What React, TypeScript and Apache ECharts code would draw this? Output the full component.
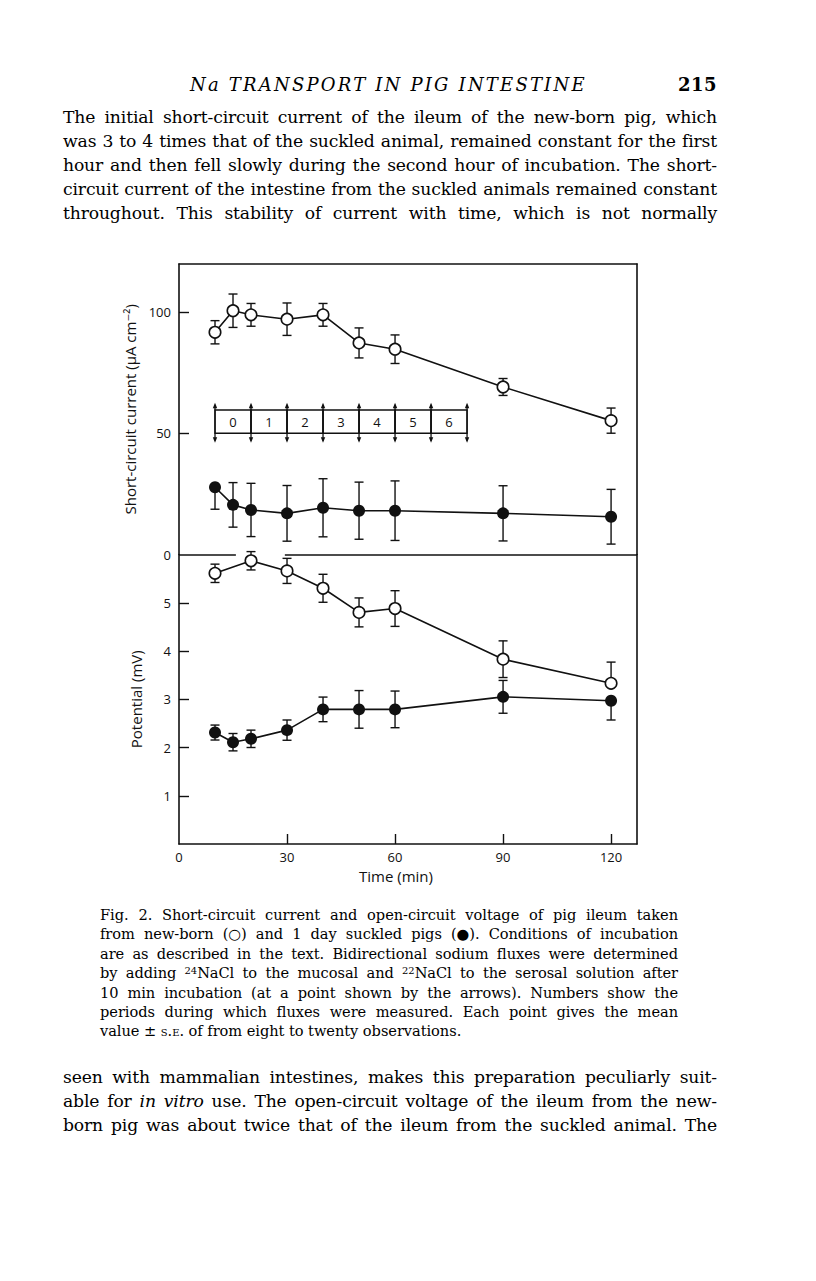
import React, { useEffect, useLayoutEffect, useRef } from "react";
import * as echarts from "echarts";

// ---------- data ----------
const xTickValues = [30, 60, 90, 120];
const xLabelValues = [0, 30, 60, 90, 120];
const scTickValues = [50, 100];
const scLabelValues = [0, 50, 100];
const pdTickValues = [1, 2, 3, 4, 5];

// short-circuit current, new-born (open circles)
const scTimesNewborn = [10, 15, 20, 30, 40, 50, 60, 90, 120];
const scNewborn = [91.8, 100.7, 99, 97.2, 99, 87.4, 84.8, 69.2, 55.3];
const scNewbornSE = [4.8, 6.9, 4.7, 6.7, 4.7, 6.2, 5.9, 3.5, 5.2];
const scNewbornSides = ["both", "both", "both", "both", "both", "both", "both", "both", "both"];

// short-circuit current, suckled (filled circles)
const scTimesSuckled = [10, 15, 20, 30, 40, 50, 60, 90, 120];
const scSuckled = [27.8, 20.5, 18.4, 17, 19.3, 18.1, 18.1, 17, 15.6];
const scSuckledSE = [9.1, 9.2, 11, 11.5, 12, 11.8, 12.3, 11.4, 11.3];
const scSuckledSides = ["down", "both", "both", "both", "both", "both", "both", "both", "both"];

// potential, new-born (open circles)
const pdTimesNewborn = [10, 20, 30, 40, 50, 60, 90, 120];
const pdNewborn = [5.61, 5.87, 5.66, 5.3, 4.8, 4.88, 3.83, 3.33];
const pdNewbornSE = [0.19, 0.19, 0.26, 0.29, 0.3, 0.37, 0.38, 0.44];
const pdNewbornSides = ["both", "both", "both", "both", "both", "both", "both", "up"];

// potential, suckled (filled circles)
const pdTimesSuckled = [10, 15, 20, 30, 40, 50, 60, 90, 120];
const pdSuckled = [2.31, 2.11, 2.18, 2.36, 2.79, 2.79, 2.79, 3.05, 2.97];
const pdSuckledSE = [0.155, 0.18, 0.18, 0.21, 0.255, 0.39, 0.38, 0.34, 0.4];
const pdSuckledSides = ["both", "both", "both", "both", "both", "both", "both", "both", "down"];

// flux periods (boxes with arrows)
const periodBounds = [10, 20, 30, 40, 50, 60, 70, 80];
const periodLabels = ["0", "1", "2", "3", "4", "5", "6"];
const periodBox = [50.1, 59.7];
const periodArrow = [46.2, 62.7];

// divider between the panels (interrupted)
const dividerSegments = [
  [0, 15.8],
  [29.4, 127.2],
];

const X_MAX = 127.2;
const SC_MAX = 120;
const PD_MAX = 6;

// ---------- helpers ----------
const INK = "#111";
const SANS = '"Open Sans", "DejaVu Sans", sans-serif';
const LW = 1.6;

function zip(xs: number[], ys: number[]) {
  return xs.map((x, i) => [x, ys[i]]);
}
function errData(xs: number[], ys: number[], se: number[], sides: string[]) {
  return xs.map((x, i) => {
    const up = sides[i] === "both" || sides[i] === "up" ? se[i] : 0;
    const dn = sides[i] === "both" || sides[i] === "down" ? se[i] : 0;
    return [x, ys[i], ys[i] - dn, ys[i] + up];
  });
}

const errRender = (params: any, api: any) => {
  const x = api.value(0);
  const y = api.value(1);
  const lo = api.value(2);
  const hi = api.value(3);
  const pLo = api.coord([x, lo]);
  const pHi = api.coord([x, hi]);
  const cw = 4.5;
  const st = { stroke: INK, lineWidth: 1.4 };
  const children: any[] = [
    { type: "line", shape: { x1: pLo[0], y1: pLo[1], x2: pHi[0], y2: pHi[1] }, style: st },
  ];
  if (hi > y)
    children.push({ type: "line", shape: { x1: pHi[0] - cw, y1: pHi[1], x2: pHi[0] + cw, y2: pHi[1] }, style: st });
  if (lo < y)
    children.push({ type: "line", shape: { x1: pLo[0] - cw, y1: pLo[1], x2: pLo[0] + cw, y2: pLo[1] }, style: st });
  return { type: "group", children };
};

function errSeries(data: number[][], axis: number) {
  return {
    type: "custom",
    xAxisIndex: axis,
    yAxisIndex: axis,
    data,
    encode: { x: 0, y: 1 },
    renderItem: errRender,
    silent: true,
    z: 2,
  };
}

function lineSeries(data: number[][], axis: number, open: boolean, extra: any = {}) {
  return {
    type: "line",
    xAxisIndex: axis,
    yAxisIndex: axis,
    data,
    symbol: "circle",
    symbolSize: open ? 11.5 : 12,
    showSymbol: true,
    lineStyle: { color: INK, width: LW },
    itemStyle: open
      ? { color: "#fff", borderColor: INK, borderWidth: 1.6 }
      : { color: INK, borderColor: INK, borderWidth: 0 },
    silent: true,
    z: 3,
    ...extra,
  };
}

const frameLine = { show: true, onZero: false, lineStyle: { color: INK, width: LW } };

const periodData = periodLabels.map((_, i) => [periodBounds[i], periodBounds[i + 1], periodBox[0], periodBox[1]]);
const arrowData = periodBounds.map((t) => [t, periodArrow[0], periodArrow[1]]);

const option: any = {
  animation: false,
  backgroundColor: "transparent",
  grid: [
    { left: 179, right: 179, top: 264, bottom: 1281 - 554.5 },
    { left: 179, right: 179, top: 554.5, bottom: 1281 - 844 },
  ],
  xAxis: [
    { gridIndex: 0, type: "value", min: 0, max: X_MAX, show: false, axisLine: { onZero: false } },
    {
      gridIndex: 1,
      type: "value",
      min: 0,
      max: X_MAX,
      interval: 30,
      axisLine: frameLine,
      axisTick: { show: true, inside: true, length: 10, customValues: xTickValues, lineStyle: { color: INK, width: 1.4 } },
      axisLabel: {
        customValues: xLabelValues,
        margin: 6,
        color: INK,
        fontSize: 13,
        fontFamily: SANS,
        formatter: (v: number) => (xLabelValues.indexOf(v) >= 0 ? String(v) : ""),
      },
      splitLine: { show: false },
      name: "Time (min)",
      nameLocation: "middle",
      nameGap: 24,
      nameTextStyle: { color: INK, fontSize: 15, fontFamily: SANS, padding: [0, 24, 0, 0] },
    },
    {
      gridIndex: 0,
      type: "value",
      min: 0,
      max: X_MAX,
      position: "top",
      axisLine: frameLine,
      axisTick: { show: false },
      axisLabel: { show: false },
      splitLine: { show: false },
    },
  ],
  yAxis: [
    {
      gridIndex: 0,
      type: "value",
      min: 0,
      max: SC_MAX,
      interval: 50,
      axisLine: frameLine,
      axisTick: { show: true, inside: true, length: 10, customValues: scTickValues, lineStyle: { color: INK, width: 1.4 } },
      axisLabel: {
        customValues: scLabelValues,
        margin: 8,
        color: INK,
        fontSize: 13,
        fontFamily: SANS,
        formatter: (v: number) => (scLabelValues.indexOf(v) >= 0 ? String(v) : ""),
      },
      splitLine: { show: false },
      name: "Short-circuit current (\u03bcA cm\u207b\u00b2)",
      nameLocation: "middle",
      nameGap: 36,
      nameTextStyle: { color: INK, fontSize: 15, fontFamily: SANS },
    },
    {
      gridIndex: 1,
      type: "value",
      min: 0,
      max: PD_MAX,
      interval: 1,
      axisLine: frameLine,
      axisTick: { show: true, inside: true, length: 10, customValues: pdTickValues, lineStyle: { color: INK, width: 1.4 } },
      axisLabel: {
        customValues: pdTickValues,
        margin: 8,
        color: INK,
        fontSize: 13,
        fontFamily: SANS,
        formatter: (v: number) => (pdTickValues.indexOf(v) >= 0 ? String(v) : ""),
      },
      splitLine: { show: false },
      name: "Potential (mV)",
      nameLocation: "middle",
      nameGap: 36,
      nameTextStyle: { color: INK, fontSize: 15, fontFamily: SANS },
    },
    {
      gridIndex: 0,
      type: "value",
      min: 0,
      max: SC_MAX,
      position: "right",
      axisLine: frameLine,
      axisTick: { show: false },
      axisLabel: { show: false },
      splitLine: { show: false },
    },
    {
      gridIndex: 1,
      type: "value",
      min: 0,
      max: PD_MAX,
      position: "right",
      axisLine: frameLine,
      axisTick: { show: false },
      axisLabel: { show: false },
      splitLine: { show: false },
    },
  ],
  series: [
    errSeries(errData(scTimesNewborn, scNewborn, scNewbornSE, scNewbornSides), 0),
    errSeries(errData(scTimesSuckled, scSuckled, scSuckledSE, scSuckledSides), 0),
    errSeries(errData(pdTimesNewborn, pdNewborn, pdNewbornSE, pdNewbornSides), 1),
    errSeries(errData(pdTimesSuckled, pdSuckled, pdSuckledSE, pdSuckledSides), 1),
    lineSeries(zip(scTimesNewborn, scNewborn), 0, true, {
      markLine: {
        silent: true,
        symbol: "none",
        label: { show: false },
        lineStyle: { color: INK, width: LW, type: "solid" },
        data: dividerSegments.map((s) => [{ coord: [s[0], 0] }, { coord: [s[1], 0] }]),
      },
    }),
    lineSeries(zip(scTimesSuckled, scSuckled), 0, false),
    lineSeries(zip(pdTimesNewborn, pdNewborn), 1, true),
    lineSeries(zip(pdTimesSuckled, pdSuckled), 1, false),
    {
      type: "custom",
      xAxisIndex: 0,
      yAxisIndex: 0,
      data: periodData,
      encode: { x: [0, 1], y: [2, 3] },
      silent: true,
      z: 2,
      renderItem: (params: any, api: any) => {
        const p0 = api.coord([api.value(0), api.value(3)]);
        const p1 = api.coord([api.value(1), api.value(2)]);
        return {
          type: "group",
          children: [
            {
              type: "rect",
              shape: { x: p0[0], y: p0[1], width: p1[0] - p0[0], height: p1[1] - p0[1] },
              style: { fill: "none", stroke: INK, lineWidth: 1.4 },
            },
            {
              type: "text",
              style: {
                text: periodLabels[params.dataIndex],
                x: (p0[0] + p1[0]) / 2,
                y: (p0[1] + p1[1]) / 2,
                align: "center",
                verticalAlign: "middle",
                textAlign: "center",
                textVerticalAlign: "middle",
                fontSize: 13,
                fontFamily: SANS,
                fill: INK,
              },
            },
          ],
        };
      },
    },
    {
      type: "custom",
      xAxisIndex: 0,
      yAxisIndex: 0,
      data: arrowData,
      encode: { x: 0, y: [1, 2] },
      silent: true,
      z: 2,
      renderItem: (params: any, api: any) => {
        const t = api.value(0);
        const pb = api.coord([t, api.value(1)]);
        const pt = api.coord([t, api.value(2)]);
        const x = pt[0];
        const hw = 2.2;
        const hh = 5.5;
        return {
          type: "group",
          children: [
            { type: "line", shape: { x1: x, y1: pt[1] + 2, x2: x, y2: pb[1] - 2 }, style: { stroke: INK, lineWidth: 1.3 } },
            { type: "polygon", shape: { points: [[x, pt[1]], [x - hw, pt[1] + hh], [x + hw, pt[1] + hh]] }, style: { fill: INK } },
            { type: "polygon", shape: { points: [[x, pb[1]], [x - hw, pb[1] - hh], [x + hw, pb[1] - hh]] }, style: { fill: INK } },
          ],
        };
      },
    },
  ],
};

// ---------- page text ----------
type LineProps = {
  cy: number;
  left: number;
  width: number;
  size: number;
  lh: number;
  ls?: number;
  justify?: boolean;
  children: React.ReactNode;
};
function TextLine({ cy, left, width, size, lh, ls = 0, justify = true, children }: LineProps) {
  return (
    <div
      style={{
        position: "absolute",
        left: left - 8,
        top: cy - 8 - lh / 2,
        width,
        fontSize: size,
        lineHeight: lh + "px",
        letterSpacing: ls,
        whiteSpace: "nowrap",
        zIndex: 1,
      }}
    >
      <span data-justify={justify ? String(width) : undefined} style={{ whiteSpace: "nowrap" }}>
        {children}
      </span>
    </div>
  );
}

const sup = (s: string) => (
  <sup style={{ fontSize: "0.68em", verticalAlign: "0.45em", lineHeight: 0 }}>{s}</sup>
);

const bodyTop = [
  "The initial short-circuit current of the ileum of the new-born pig, which",
  "was 3 to 4 times that of the suckled animal, remained constant for the first",
  "hour and then fell slowly during the second hour of incubation. The short-",
  "circuit current of the intestine from the suckled animals remained constant",
  "throughout. This stability of current with time, which is not normally",
];

export default function App() {
  const ref = useRef<HTMLDivElement>(null);
  const pageRef = useRef<HTMLDivElement>(null);

  useLayoutEffect(() => {
    const root = pageRef.current;
    if (!root) return;
    const spans = root.querySelectorAll("span[data-justify]");
    spans.forEach((el) => {
      const span = el as HTMLSpanElement;
      const target = parseFloat(span.getAttribute("data-justify") || "0");
      span.style.wordSpacing = "0px";
      const w = span.getBoundingClientRect().width;
      const spaces = ((span.textContent || "").match(/ /g) || []).length;
      if (spaces > 0) span.style.wordSpacing = (target - w) / spaces + "px";
    });
  }, []);

  useEffect(() => {
    const chart = echarts.init(ref.current as HTMLDivElement, undefined, { renderer: "svg" });
    chart.setOption(option);
    return () => chart.dispose();
  }, []);

  const body = { left: 63, width: 654, size: 17.2, lh: 24, ls: -0.15 };
  const cap = { left: 100, width: 578, size: 14.6, lh: 20, ls: -0.05 };
  const capY = (i: number) => 915 + 19.4 * i;

  return (
    <div
      ref={pageRef}
      style={{
        position: "relative",
        width: 800,
        height: 1265,
        background: "#fff",
        color: "#000",
        fontFamily: '"DejaVu Serif", serif',
      }}
    >
      <div ref={ref} style={{ position: "absolute", left: -8, top: -8, width: 816, height: 1281 }} />

      <div
        style={{
          position: "absolute",
          left: 190 - 8,
          top: 85 - 8 - 12,
          lineHeight: "24px",
          fontSize: 18,
          fontStyle: "italic",
          letterSpacing: 2.2,
          whiteSpace: "nowrap",
          zIndex: 1,
        }}
      >
        Na TRANSPORT IN PIG INTESTINE
      </div>
      <div
        style={{
          position: "absolute",
          left: 650 - 8,
          width: 67,
          top: 85 - 8 - 12,
          lineHeight: "24px",
          fontSize: 18,
          fontWeight: "bold",
          letterSpacing: 0.5,
          textAlign: "right",
          zIndex: 1,
        }}
      >
        215
      </div>

      {bodyTop.map((t, i) => (
        <TextLine key={i} cy={117 + 24 * i} {...body}>
          {t}
        </TextLine>
      ))}

      <TextLine cy={capY(0)} {...cap}>
        Fig. 2. Short-circuit current and open-circuit voltage of pig ileum taken
      </TextLine>
      <TextLine cy={capY(1)} {...cap}>
        from new-born (<span style={{ fontFamily: '"DejaVu Sans"' }}>{"\u25cb"}</span>) and 1 day suckled pigs (<span style={{ fontFamily: '"DejaVu Sans"' }}>{"\u25cf"}</span>). Conditions of incubation
      </TextLine>
      <TextLine cy={capY(2)} {...cap}>
        are as described in the text. Bidirectional sodium fluxes were determined
      </TextLine>
      <TextLine cy={capY(3)} {...cap}>
        by adding {sup("24")}NaCl to the mucosal and {sup("22")}NaCl to the serosal solution after
      </TextLine>
      <TextLine cy={capY(4)} {...cap}>
        10 min incubation (at a point shown by the arrows). Numbers show the
      </TextLine>
      <TextLine cy={capY(5)} {...cap}>
        periods during which fluxes were measured. Each point gives the mean
      </TextLine>
      <TextLine cy={capY(6)} {...cap} justify={false}>
        value {"\u00b1"} <span style={{ fontVariant: "small-caps" }}>s.e.</span> of from eight to twenty observations.
      </TextLine>

      <TextLine cy={1077} {...body}>
        seen with mammalian intestines, makes this preparation peculiarly suit-
      </TextLine>
      <TextLine cy={1101} {...body}>
        able for <i>in vitro</i> use. The open-circuit voltage of the ileum from the new-
      </TextLine>
      <TextLine cy={1125} {...body}>
        born pig was about twice that of the ileum from the suckled animal. The
      </TextLine>
    </div>
  );
}
